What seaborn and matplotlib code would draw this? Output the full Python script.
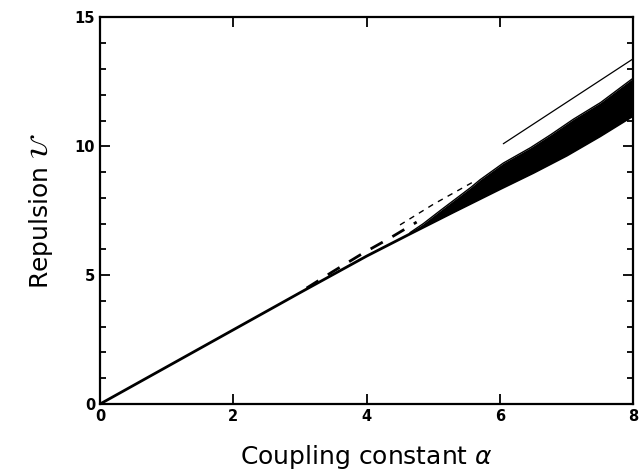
import matplotlib
matplotlib.use("Agg")
import matplotlib.pyplot as plt
import seaborn as sns
import numpy as np
from matplotlib.ticker import MultipleLocator

# main solid curve (continues as lower edge of the black band)
main_alpha = [0.0, 2.0, 3.0, 4.0, 4.65, 5.3, 6.0, 6.5, 7.0, 7.5, 8.0]
main_u = [0.0, 2.88, 4.32, 5.74, 6.6, 7.45, 8.35, 8.98, 9.65, 10.4, 11.2]

# upper edge of the black band
band_alpha = [4.65, 4.85, 5.1, 5.56, 5.7, 6.05, 6.46, 6.76, 7.1, 7.51, 8.0]
band_upper = [6.65, 7.0, 7.5, 8.4, 8.7, 9.35, 9.95, 10.45, 11.05, 11.7, 12.65]

# long dashed curve
ldash_alpha = [3.1, 3.5, 3.95, 4.35, 4.75]
ldash_u = [4.5, 5.15, 5.86, 6.44, 7.06]

# short dashed curve
sdash_alpha = [4.5, 5.0, 5.6]
sdash_u = [6.95, 7.75, 8.62]

# thin straight line
thin_alpha = [6.05, 8.0]
thin_u = [10.1, 13.4]

sns.set_style("ticks")
plt.rcParams["font.family"] = ["DejaVu Sans"]
plt.rcParams["text.color"] = "black"
plt.rcParams["axes.labelcolor"] = "black"
plt.rcParams["xtick.color"] = "black"
plt.rcParams["ytick.color"] = "black"

fig = plt.figure(figsize=(6.41, 4.72), dpi=100)
ax = fig.add_axes([0.156, 0.144, 0.832, 0.819])

band_lower = np.interp(band_alpha, main_alpha, main_u)
ax.fill_between(band_alpha, band_lower, band_upper, color="black", lw=0)

sns.lineplot(x=main_alpha, y=main_u, ax=ax, color="black", lw=2.0)
sns.lineplot(x=band_alpha, y=band_upper, ax=ax, color="black", lw=1.0)
sns.lineplot(x=ldash_alpha, y=ldash_u, ax=ax, color="black", lw=2.0, linestyle=(0, (5, 4)))
sns.lineplot(x=sdash_alpha, y=sdash_u, ax=ax, color="black", lw=1.0, linestyle=(0, (4, 4)))
sns.lineplot(x=thin_alpha, y=thin_u, ax=ax, color="black", lw=0.9)

ax.set_xlim(0, 8)
ax.set_ylim(0, 15)
ax.xaxis.set_major_locator(MultipleLocator(2))
ax.yaxis.set_major_locator(MultipleLocator(5))
ax.yaxis.set_minor_locator(MultipleLocator(1))
ax.tick_params(which="both", direction="in", top=True, right=True, width=1.3, colors="black")
ax.tick_params(which="major", length=7)
ax.tick_params(which="minor", length=4)
for sp in ax.spines.values():
    sp.set_linewidth(1.6)
    sp.set_color("black")
    sp.set_visible(True)
for lab in ax.get_xticklabels() + ax.get_yticklabels():
    lab.set_fontweight("bold")
    lab.set_fontsize(10.5)

ax.set_xlabel(r"Coupling constant $\alpha$", fontsize=18, labelpad=14)
ax.set_ylabel(r"Repulsion $\mathcal{U}$", fontsize=18, labelpad=14)

fig.savefig("out.png", dpi=100)
